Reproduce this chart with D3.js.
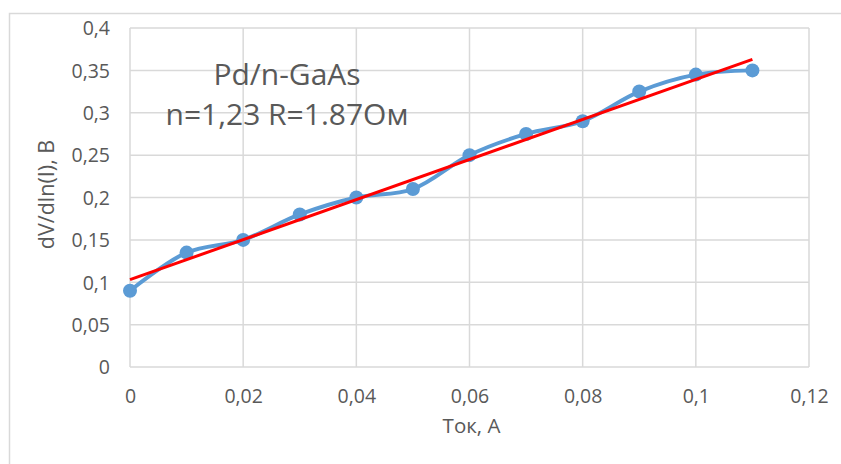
<!DOCTYPE html>
<html>
<head>
<meta charset="utf-8">
<script src="https://cdn.jsdelivr.net/npm/d3@7"></script>
<style>
  body { margin: 0; background: #fff; }
  text { font-family: "Open Sans", sans-serif; fill: #595959; }
</style>
</head>
<body>
<div id="chart"></div>
<script>
// measured data (current, A -> dV/dln(I), V)
var current = [0, 0.01, 0.02, 0.03, 0.04, 0.05, 0.06, 0.07, 0.08, 0.09, 0.1, 0.11];
var dVdlnI = [0.09, 0.135, 0.15, 0.18, 0.2, 0.21, 0.25, 0.275, 0.29, 0.325, 0.345, 0.35];

// linear trend line ends
var trendX = [0, 0.11];
var trendY = [0.103, 0.363];

var xTicks = [0, 0.02, 0.04, 0.06, 0.08, 0.1, 0.12];
var yTicks = [0, 0.05, 0.1, 0.15, 0.2, 0.25, 0.3, 0.35, 0.4];

var labelLines = ["Pd/n-GaAs", "n=1,23 R=1.87Ом"];

var W = 841, H = 464;
var margin = { top: 28, right: 32, bottom: 97, left: 130 };
var width = W - margin.left - margin.right,
    height = H - margin.top - margin.bottom;

var svg = d3.select("#chart").append("svg")
    .attr("width", W)
    .attr("height", H);

// outer chart-area border (cropped on the right and bottom)
svg.append("rect")
    .attr("x", 9.5).attr("y", 13.5)
    .attr("width", 900).attr("height", 600)
    .attr("fill", "none")
    .attr("stroke", "#d9d9d9")
    .attr("stroke-width", 1.5);

var g = svg.append("g")
    .attr("transform", "translate(" + margin.left + "," + margin.top + ")");

var x = d3.scaleLinear().domain([0, 0.12]).range([0, width]);
var y = d3.scaleLinear().domain([0, 0.4]).range([height, 0]);

var fmt = function(d) { return String(d).replace(".", ","); };

// gridlines
g.append("g").selectAll("line.v")
    .data(xTicks)
  .enter().append("line")
    .attr("x1", function(d) { return x(d); })
    .attr("x2", function(d) { return x(d); })
    .attr("y1", 0).attr("y2", height)
    .attr("stroke", "#d9d9d9").attr("stroke-width", 1.5);

g.append("g").selectAll("line.h")
    .data(yTicks)
  .enter().append("line")
    .attr("x1", 0).attr("x2", width)
    .attr("y1", function(d) { return y(d); })
    .attr("y2", function(d) { return y(d); })
    .attr("stroke", "#d9d9d9").attr("stroke-width", 1.5);

// axes (labels only, lines come from the grid)
var xAxis = d3.axisBottom(x).tickValues(xTicks).tickFormat(fmt).tickSize(0).tickPadding(22);
var yAxis = d3.axisLeft(y).tickValues(yTicks).tickFormat(fmt).tickSize(0).tickPadding(20);

var gx = g.append("g").attr("transform", "translate(0," + height + ")").call(xAxis);
var gy = g.append("g").call(yAxis);
[gx, gy].forEach(function(a) {
    a.select(".domain").remove();
    a.selectAll("text")
        .style("font-size", "19.5px")
        .style("font-family", "'Open Sans', sans-serif")
        .attr("fill", "#595959");
});
gy.selectAll("text").attr("dy", "0.35em");

// axis titles
g.append("text")
    .attr("x", x(0.06) + 2).attr("y", height + 66)
    .attr("text-anchor", "middle")
    .style("font-size", "20.5px")
    .text("Ток, А");

g.append("text")
    .attr("transform", "translate(-76," + (height / 2 - 3) + ") rotate(-90)")
    .attr("text-anchor", "middle")
    .style("font-size", "21.5px")
    .text("dV/dln(I), В");

// smoothed data line
var pts = current.map(function(c, i) { return [c, dVdlnI[i]]; });
var line = d3.line()
    .x(function(d) { return x(d[0]); })
    .y(function(d) { return y(d[1]); })
    .curve(d3.curveCatmullRom.alpha(0.5));

g.append("path")
    .datum(pts)
    .attr("d", line)
    .attr("fill", "none")
    .attr("stroke", "#5b9bd5")
    .attr("stroke-width", 4)
    .attr("stroke-linecap", "round");

g.selectAll("circle.pt")
    .data(pts)
  .enter().append("circle")
    .attr("cx", function(d) { return x(d[0]); })
    .attr("cy", function(d) { return y(d[1]); })
    .attr("r", 7)
    .attr("fill", "#5b9bd5");

// trend line
var trend = trendX.map(function(c, i) { return [c, trendY[i]]; });
g.append("path")
    .datum(trend)
    .attr("d", d3.line().x(function(d) { return x(d[0]); }).y(function(d) { return y(d[1]); }))
    .attr("fill", "none")
    .attr("stroke", "#ff0000")
    .attr("stroke-width", 3);

// annotation
var ann = g.append("text")
    .attr("text-anchor", "middle")
    .style("font-size", "30px");
ann.selectAll("tspan")
    .data(labelLines)
  .enter().append("tspan")
    .attr("x", 157)
    .attr("y", function(d, i) { return 57 + i * 40; })
    .text(function(d) { return d; });
</script>
</body>
</html>
